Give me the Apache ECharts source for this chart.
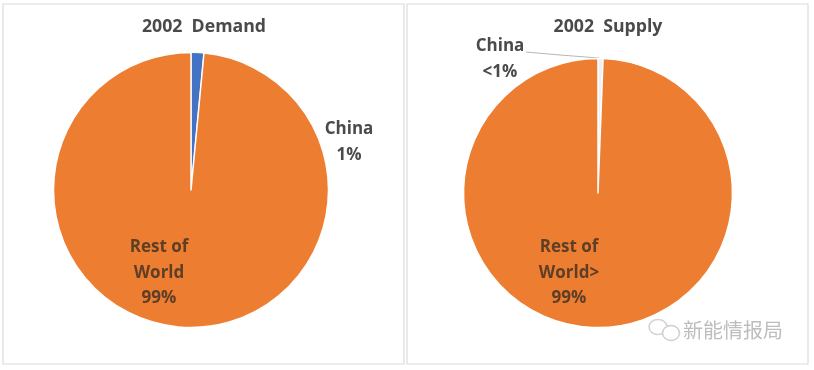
<!DOCTYPE html>
<html><head><meta charset="utf-8">
<style>html,body{margin:0;padding:0;background:#fff}#c{width:814px;height:370px}</style>
<script src="https://cdn.jsdelivr.net/npm/echarts@6/dist/echarts.min.js"></script>
</head><body><div id="c"></div>
<script>
const categories = ['China', 'Rest of World'];
const demandValues = [1.5, 98.5];
const supplyValues = [0.6, 99.4];
const demandLabels = ['China\n1%', 'Rest of\nWorld\n99%'];
const supplyLabels = ['China\n<1%', 'Rest of\nWorld>\n99%'];
const titles = ['2002  Demand', '2002  Supply'];
const watermark = '新能情报局';

const FONT = '"Open Sans", sans-serif';
const ORANGE = '#ED7D31', TEXT = '#4a4a4a', INNER = '#5e3f26';

function pie(values, labels, center, radius, colors, pos, linePoints) {
  return {
    type: 'pie', center, radius, startAngle: 90, clockwise: true, animation: false,
    silent: true,
    data: categories.map((name, i) => ({
      name, value: values[i],
      itemStyle: { color: colors[i], borderColor: '#fff', borderWidth: i === 0 ? 1 : 1.5 },
      label: { formatter: labels[i], color: i === 0 ? TEXT : INNER },
      labelLine: { show: i === 0 && !!linePoints, lineStyle: { color: '#b4b8bc', width: 1.2 } },
    })),
    label: { show: true, fontFamily: FONT, fontSize: 17, fontWeight: 700, lineHeight: 25.5, align: 'center', verticalAlign: 'middle' },
    labelLine: { show: false, length: 4, length2: 30 },
    labelLayout: p => Object.assign(
      { x: pos[p.dataIndex][0], y: pos[p.dataIndex][1], align: 'center', verticalAlign: 'middle' },
      p.dataIndex === 0 && linePoints ? { labelLinePoints: linePoints } : {}
    ),
  };
}

const chart = echarts.init(document.getElementById('c'), null, { renderer: 'canvas' });
const titleStyle = { fontFamily: FONT, fontSize: 17.7, fontWeight: 700, color: TEXT };
chart.setOption({
  backgroundColor: '#fff',
  animation: false,
  title: [
    { text: titles[0], left: 199, top: 22, textAlign: 'center', textVerticalAlign: 'middle', textStyle: titleStyle },
    { text: titles[1], left: 603, top: 22, textAlign: 'center', textVerticalAlign: 'middle', textStyle: titleStyle },
  ],
  graphic: [
    { type: 'rect', z: -1, shape: { x: 3, y: 4, width: 401, height: 360 }, style: { fill: '#fff', stroke: '#dcdcdc', lineWidth: 1.2 } },
    { type: 'rect', z: -1, shape: { x: 407, y: 4, width: 401, height: 360 }, style: { fill: '#fff', stroke: '#dcdcdc', lineWidth: 1.2 } },
    { type: 'text', style: { x: 683, y: 330, text: watermark, fill: '#bdbdbd', font: '20px "Noto Sans CJK SC"', textVerticalAlign: 'middle' } },
    { type: 'ellipse', shape: { cx: 658, cy: 327, rx: 9, ry: 7.5 }, style: { fill: 'none', stroke: '#d4d4d4', lineWidth: 1.5 } },
    { type: 'ellipse', shape: { cx: 671, cy: 333, rx: 8.5, ry: 7.5 }, style: { fill: '#fff', stroke: '#cfcfcf', lineWidth: 1.5 } },
  ],
  series: [
    pie(demandValues, demandLabels, [191, 190], 137.5, ['#4472C4', ORANGE], [[349, 142], [159, 273]], null),
    pie(supplyValues, supplyLabels, [598, 193], 134.5, ['#eef0f2', ORANGE], [[500, 59], [569, 273]], [[526, 52], [560, 55], [599, 58]]),
  ],
});
</script></body></html>
